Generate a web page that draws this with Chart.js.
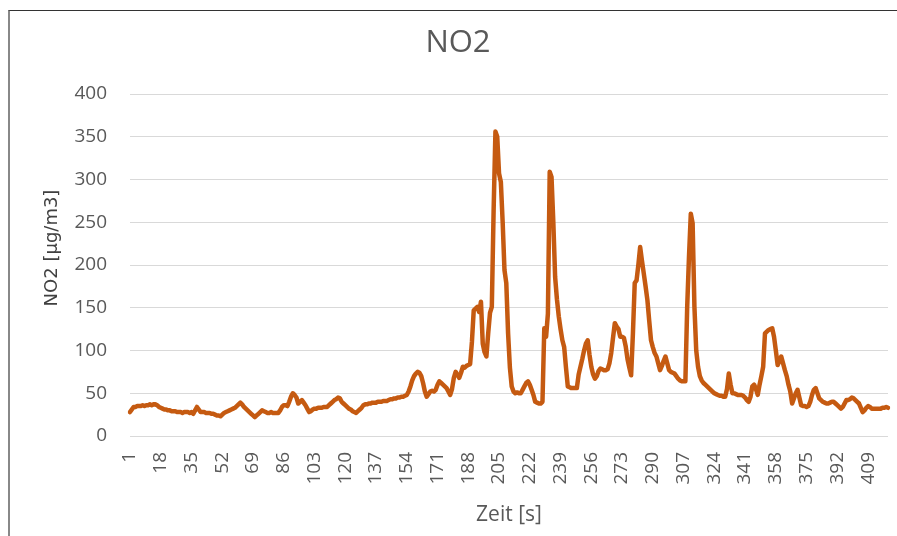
<!DOCTYPE html>
<html>
<head>
<meta charset="utf-8">
<script src="https://cdn.jsdelivr.net/npm/chart.js@4.4.1/dist/chart.umd.min.js"></script>
<style>
  html, body { margin: 0; padding: 0; background: #fff; overflow: hidden; }
  #wrap { position: relative; width: 897px; height: 536px; }
  #frame {
    position: absolute; left: 8px; top: 10px; width: 1000px; height: 1000px;
    border-top: 1px solid #333; border-left: 2px solid #888; pointer-events: none;
  }
</style>
</head>
<body>
<div id="wrap">
  <canvas id="no2Chart" width="897" height="536"></canvas>
  <div id="frame"></div>
</div>
<script>
// NO2 readings, roughly one row per 17 seconds
const no2Values = [
  28, 31, 34, 34, 35, 35, 35, 36, 35, 36, 36, 37, 36, 37, 37, 36, 34,
  33, 32, 31, 31, 30, 30, 29, 29, 29, 28, 28, 28, 27, 28, 28, 28, 27,
  28, 26, 30, 34, 31, 28, 28, 28, 27, 27, 27, 26, 26, 25, 24, 24, 23,
  25, 27, 28, 29, 30, 31, 32, 33, 35, 37, 39, 37, 34, 32, 30, 28, 26,
  24, 22, 24, 26, 28, 30, 29, 28, 27, 27, 28, 27, 27, 27, 27, 30, 34, 36,
  36, 35, 40, 46, 50, 48, 45, 38, 40, 42, 39, 36, 32, 28, 29, 31, 32,
  32, 33, 33, 33, 34, 34, 34, 36, 38, 40, 42, 43, 45, 44, 40, 38, 36,
  34, 32, 31, 29, 28, 27, 29, 31, 33, 36, 37, 37, 38, 38, 39, 39, 39,
  40, 40, 40, 41, 41, 41, 42, 43, 43, 44, 44, 45, 45, 46, 46, 47, 48, 52,
  58, 65, 70, 73, 75, 74, 70, 62, 52, 46, 49, 52, 53, 52, 54, 60, 64,
  62, 60, 58, 56, 52, 48, 55, 68, 75, 72, 68, 74, 81, 80, 82, 83, 84,
  110, 147, 149, 151, 145, 157, 108, 98, 93, 120, 144, 151, 264, 356, 350, 307, 297,
  250, 194, 179, 120, 80, 58, 52, 50, 51, 50, 50, 54, 58, 62, 64, 60, 54,
  48, 40, 39, 38, 38, 40, 126, 116, 143, 309, 303, 250, 186, 160, 140, 125, 112,
  104, 80, 58, 57, 56, 56, 56, 56, 72, 81, 90, 100, 108, 112, 95, 81, 72,
  67, 70, 76, 79, 78, 77, 77, 78, 85, 97, 115, 132, 128, 125, 116, 116, 115,
  105, 90, 80, 71, 120, 179, 182, 200, 221, 205, 190, 175, 159, 135, 112, 104, 97,
  93, 85, 77, 82, 88, 93, 85, 77, 75, 74, 73, 70, 67, 65, 64, 64, 64,
  151, 210, 260, 249, 151, 100, 81, 70, 65, 62, 60, 58, 56, 54, 52, 50, 49,
  48, 47, 47, 46, 46, 55, 73, 60, 50, 50, 49, 48, 48, 48, 47, 45, 42,
  40, 46, 58, 60, 55, 48, 60, 70, 81, 120, 122, 124, 125, 126, 116, 100, 83,
  88, 93, 85, 77, 70, 60, 52, 38, 44, 50, 54, 45, 36, 35, 35, 34, 35,
  40, 48, 54, 56, 50, 44, 42, 40, 39, 38, 38, 39, 40, 40, 38, 36,
  34, 32, 34, 38, 42, 42, 43, 45, 44, 42, 40, 38, 33, 28, 30, 33, 35,
  34, 32, 32, 32, 32, 32, 32, 33, 33, 34, 33
];

// seconds 1..n, one category per reading
const timeLabels = no2Values.map((v, i) => String(i + 1));

const xTickLabels = ['1', '18', '35', '52', '69', '86', '103', '120', '137', '154', '171', '188',
  '205', '222', '239', '256', '273', '290', '307', '324', '341', '358', '375', '392', '409'];

const yTicks = [0, 50, 100, 150, 200, 250, 300, 350, 400];

const textColor = '#595959';
const gridColor = '#D9D9D9';
const lineColor = '#C55A11';

// y axis title drawn by hand so it can sit slightly above the middle, like the original
const yTitlePlugin = {
  id: 'yTitle',
  afterDraw(chart) {
    const ctx = chart.ctx;
    ctx.save();
    ctx.translate(52, 248);
    ctx.rotate(-Math.PI / 2);
    ctx.font = '18px "DejaVu Sans"';
    ctx.fillStyle = '#404040';
    ctx.textAlign = 'center';
    ctx.textBaseline = 'middle';
    ctx.fillText('NO2 [µg/m3]', 0, 0);
    ctx.restore();
  }
};

const chart = new Chart(document.getElementById('no2Chart').getContext('2d'), {
  type: 'line',
  data: {
    labels: timeLabels,
    datasets: [
      {
        label: 'NO2',
        data: no2Values,
        borderColor: lineColor,
        backgroundColor: lineColor,
        borderWidth: 4.5,
        borderJoinStyle: 'round',
        borderCapStyle: 'round',
        pointRadius: 0,
        tension: 0,
        fill: false
      }
    ]
  },
  options: {
    responsive: false,
    animation: false,
    devicePixelRatio: 1,
    layout: { padding: { left: 28, right: 9, top: 0, bottom: 0 } },
    plugins: {
      legend: { display: false },
      tooltip: { enabled: false },
      title: {
        display: true,
        text: 'NO2',
        color: textColor,
        font: { family: '"Open Sans"', size: 31, weight: 'normal' },
        padding: { top: 24.4, bottom: 32.4 }
      }
    },
    scales: {
      x: {
        type: 'category',
        offset: false,
        grid: { display: false, drawTicks: false },
        border: { display: false },
        afterFit: scale => {
          scale.height = 100;
          scale.paddingLeft = 0;
          scale.paddingRight = 0;
        },
        ticks: {
          autoSkip: false,
          minRotation: 90,
          maxRotation: 90,
          padding: 16,
          color: textColor,
          font: { family: '"Open Sans"', size: 19 },
          callback: function (value, index) {
            const lbl = timeLabels[index];
            return xTickLabels.includes(lbl) ? lbl : '';
          }
        },
        title: {
          display: true,
          text: 'Zeit [s]',
          color: textColor,
          font: { family: '"Open Sans"', size: 21, weight: 'normal' },
          padding: { top: 0, bottom: 8.4 }
        }
      },
      y: {
        min: 0,
        max: 400,
        afterFit: scale => { scale.width = 102; },
        afterBuildTicks: scale => { scale.ticks = yTicks.map(v => ({ value: v })); },
        grid: { color: gridColor, lineWidth: 1, drawTicks: false },
        border: { display: false },
        ticks: {
          padding: 23,
          color: textColor,
          font: { family: '"Open Sans"', size: 19 }
        }
      }
    }
  },
  plugins: [yTitlePlugin]
});
</script>
</body>
</html>
